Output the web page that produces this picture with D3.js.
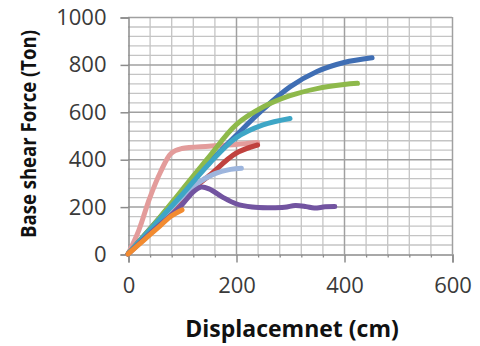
<!DOCTYPE html>
<html>
<head>
<meta charset="utf-8">
<script src="https://cdn.jsdelivr.net/npm/d3@7"></script>
<style>
  body { margin: 0; background: #fff; }
  svg { display: block; }
</style>
</head>
<body>
<svg id="chart" width="480" height="346"></svg>
<script>
// series values: [displacement (cm), base shear (Ton)]
const pinkSeries = [[0,0],[20,100],[40,235],[60,345],[80,425],[100,445],[150,455],[200,462],[240,470]];
const blueSeries = [[0,0],[50,130],[100,260],[150,385],[200,500],[250,610],[300,705],[350,770],[400,808],[452,828]];
const redSeries = [[0,0],[50,115],[100,235],[150,330],[200,425],[240,460]];
const greenSeries = [[0,0],[50,130],[100,270],[150,410],[200,545],[250,620],[300,668],[350,698],[400,715],[425,720]];
const lavenderSeries = [[0,0],[50,120],[100,240],[130,300],[160,338],[190,357],[210,362]];
const cyanSeries = [[0,0],[50,125],[100,250],[150,380],[200,490],[250,545],[300,572]];
const purpleSeries = [[0,0],[50,105],[95,195],[120,260],[135,282],[150,275],[175,240],[200,212],[230,198],[260,195],[290,197],[310,205],[330,200],[345,194],[365,199],[383,200]];
const orangeSeries = [[0,0],[30,60],[60,120],[80,160],[100,186]];

const seriesList = [pinkSeries, blueSeries, redSeries, greenSeries, lavenderSeries, cyanSeries, purpleSeries, orangeSeries];
const seriesColors = ['#E39C9B', '#3F6EB4', '#C0413E', '#8EB94B', '#9DB5DD', '#3EA6C6', '#7254A0', '#F28B30'];

const xTicks = [0, 200, 400, 600];
const yTicks = [0, 200, 400, 600, 800, 1000];
const xTitle = 'Displacemnet (cm)';
const yTitle = 'Base shear Force (Ton)';

const plotLeft = 128, plotRight = 452, plotTop = 17, plotBottom = 254;

const svg = d3.select('#chart');

const x = d3.scaleLinear().domain([0, 600]).range([plotLeft, plotRight]);
const y = d3.scaleLinear().domain([0, 1000]).range([plotBottom, plotTop]);

// minor grid every 40 units, then major grid
const minorX = d3.range(40, 600, 40).filter(v => v % 200 !== 0);
const minorY = d3.range(40, 1000, 40).filter(v => v % 200 !== 0);

svg.append('g').selectAll('line').data(minorX).join('line')
    .attr('x1', d => x(d) + 0.5).attr('x2', d => x(d) + 0.5)
    .attr('y1', plotTop).attr('y2', plotBottom)
    .attr('stroke', '#C4C4C4').attr('stroke-width', 1.3);

svg.append('g').selectAll('line').data(minorY).join('line')
    .attr('x1', plotLeft).attr('x2', plotRight)
    .attr('y1', d => y(d) + 0.5).attr('y2', d => y(d) + 0.5)
    .attr('stroke', '#C4C4C4').attr('stroke-width', 1.3);

svg.append('g').selectAll('line').data(xTicks.slice(1)).join('line')
    .attr('x1', d => x(d) + 0.5).attr('x2', d => x(d) + 0.5)
    .attr('y1', plotTop).attr('y2', plotBottom)
    .attr('stroke', '#A0A0A0').attr('stroke-width', 1.5);

svg.append('g').selectAll('line').data(yTicks.slice(1)).join('line')
    .attr('x1', plotLeft).attr('x2', plotRight)
    .attr('y1', d => y(d) + 0.5).attr('y2', d => y(d) + 0.5)
    .attr('stroke', '#A0A0A0').attr('stroke-width', 1.5);

// axes
const xAxis = svg.append('g')
    .attr('transform', `translate(0.5, ${plotBottom + 0.5})`)
    .call(d3.axisBottom(x).tickValues(xTicks).tickFormat(d3.format('d')).tickSize(8).tickPadding(15));

const xMinor = svg.append('g')
    .attr('transform', `translate(0.5, ${plotBottom + 0.5})`)
    .call(d3.axisBottom(x).tickValues(minorX).tickSize(3).tickFormat(''));
xMinor.select('.domain').remove();
xMinor.selectAll('.tick line').attr('stroke', '#8C8C8C').attr('stroke-width', 1.3);

const yAxis = svg.append('g')
    .attr('transform', `translate(${plotLeft + 0.5}, 0.5)`)
    .call(d3.axisLeft(y).tickValues(yTicks).tickFormat(d3.format('d')).tickSize(8).tickPadding(14));

[xAxis, yAxis].forEach(g => {
    g.select('.domain').attr('stroke', '#8C8C8C').attr('stroke-width', 1.5);
    g.selectAll('.tick line').attr('stroke', '#8C8C8C').attr('stroke-width', 1.5);
    g.selectAll('.tick text')
        .attr('fill', '#3A3A3A')
        .style('font-family', '"Open Sans", sans-serif')
        .style('font-size', '22px');
});

// series lines
const line = d3.line()
    .x(d => x(d[0]))
    .y(d => y(d[1]))
    .curve(d3.curveCatmullRom.alpha(0.5));

svg.append('g').selectAll('path').data(seriesList).join('path')
    .attr('d', line)
    .attr('fill', 'none')
    .attr('stroke', (d, i) => seriesColors[i])
    .attr('stroke-width', 5)
    .attr('stroke-linecap', 'round')
    .attr('stroke-linejoin', 'round');

// titles
svg.append('text')
    .attr('x', 292).attr('y', 337)
    .attr('text-anchor', 'middle')
    .style('font-family', '"Open Sans", sans-serif')
    .style('font-weight', 'bold')
    .style('font-size', '23px')
    .attr('fill', '#111')
    .text(xTitle);

svg.append('text')
    .attr('transform', 'translate(36, 134) rotate(-90)')
    .attr('text-anchor', 'middle')
    .attr('textLength', 208)
    .attr('lengthAdjust', 'spacingAndGlyphs')
    .style('font-family', '"Open Sans", sans-serif')
    .style('font-weight', 'bold')
    .style('font-size', '21px')
    .attr('fill', '#111')
    .text(yTitle);
</script>
</body>
</html>
